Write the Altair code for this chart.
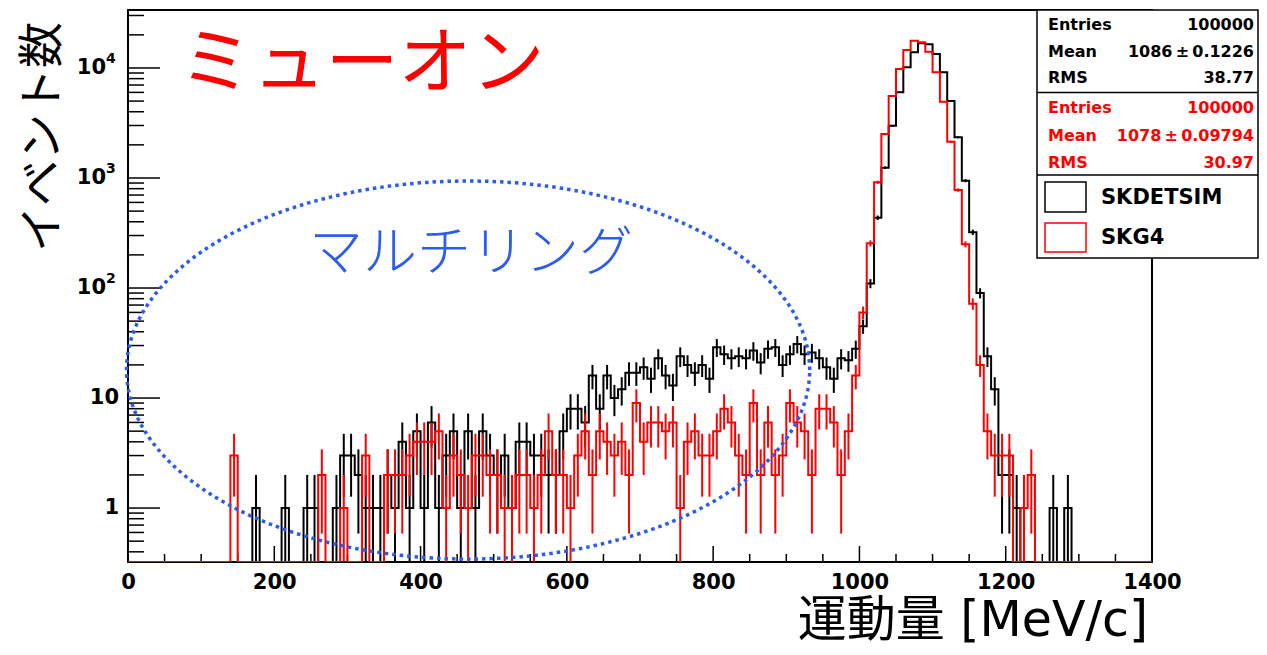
import altair as alt
import numpy as np
import pandas as pd

# ---------------- data ----------------
BIN_WIDTH = 10          # MeV/c per bin
X_MAX = 1400
Y_MIN = 0.3233
Y_MAX = 33650

skdetsim_counts = [
    0, 0, 0, 0, 0, 0, 0, 0, 0, 0,
    0, 0, 0, 0, 0, 0, 0, 1, 0, 0,
    0, 1, 0, 0, 1, 1, 0, 0, 1, 3,
    3, 2, 1, 1, 1, 2, 1, 4, 1, 5,
    1, 6, 1, 3, 5, 1, 5, 1, 5, 3,
    2, 3, 1, 4, 4, 3, 3, 2, 2, 5,
    8, 8, 6, 16, 8, 16, 10, 12, 17, 17,
    19, 15, 23, 16, 13, 24, 20, 17, 20, 15,
    29, 25, 23, 24, 23, 27, 21, 28, 29, 20,
    25, 31, 25, 26, 23, 19, 15, 23, 22, 28,
    45, 110, 435, 1240, 2990, 6010, 10150, 13900, 16760, 16400,
    13400, 9140, 5010, 2344, 946, 321, 90, 24, 12, 2,
    2, 1, 0, 0, 0, 0, 1, 0, 1, 0,
    0, 0, 0, 0, 0, 0, 0, 0, 0, 0,
]

skg4_counts = [
    0, 0, 0, 0, 0, 0, 0, 0, 0, 0,
    0, 0, 0, 0, 3, 0, 0, 0, 0, 0,
    0, 0, 0, 0, 0, 0, 2, 0, 0, 1,
    0, 0, 3, 0, 0, 2, 2, 2, 3, 4,
    4, 4, 5, 1, 3, 2, 1, 3, 3, 2,
    2, 1, 1, 2, 2, 1, 2, 5, 2, 2,
    1, 3, 5, 2, 5, 4, 3, 4, 2, 9,
    4, 6, 6, 5, 6, 1, 4, 5, 3, 3,
    5, 8, 6, 3, 2, 9, 2, 6, 2, 3,
    9, 6, 5, 2, 8, 8, 6, 2, 5, 16,
    60, 255, 914, 2512, 5560, 9800, 14580, 17700, 17100, 14060,
    9140, 4940, 2138, 778, 250, 72, 20, 5, 3, 3,
    3, 0, 1, 2, 0, 0, 0, 0, 0, 0,
    0, 0, 0, 0, 0, 0, 0, 0, 0, 0,
]

x_label_values = [0, 200, 400, 600, 800, 1000, 1200, 1400]
x_major_ticks = [200, 400, 600, 800, 1000, 1200]
x_minor_ticks = [50, 100, 150, 250, 300, 350, 450, 500, 550, 650, 700, 750,
                 850, 900, 950, 1050, 1100, 1150, 1250, 1300, 1350]
y_major_ticks = [1, 10, 100, 1000, 10000]
y_minor_ticks = [0.4, 0.5, 0.6, 0.7, 0.8, 0.9,
                 2, 3, 4, 5, 6, 7, 8, 9,
                 20, 30, 40, 50, 60, 70, 80, 90,
                 200, 300, 400, 500, 600, 700, 800, 900,
                 2000, 3000, 4000, 5000, 6000, 7000, 8000, 9000,
                 20000, 30000]
y_sup_values = [10000, 1000, 100]
y_sup_exponents = ["4", "3", "2"]
y_plain_values = [10, 1]
y_plain_labels = ["10", "1"]

stats_left = ["Entries", "Mean", "RMS", "Entries", "Mean", "RMS"]
stats_right = ["100000", "1086\u2009±\u20090.1226", "38.77",
               "100000", "1078\u2009±\u20090.09794", "30.97"]
stats_colors = ["#000000"] * 3 + ["#ff0000"] * 3
legend_names = ["SKDETSIM", "SKG4"]
legend_colors = ["#000000", "#ff0000"]

# multi-ring ellipse annotation (x in MeV/c, y in log10 counts)
ell_cx, ell_rx = 465.0, 467.0
ell_cy_log, ell_ry_log = 1.2545, 1.718

W, H = 1024, 552
FONT_B = "DejaVu Sans"

xs = alt.Scale(domain=[0, X_MAX], nice=False, zero=False)
ys = alt.Scale(type="log", domain=[Y_MIN, Y_MAX], nice=False)
X_AXIS = alt.Axis(values=x_label_values, format="d", labelFont=FONT_B, labelFontWeight="bold",
                  labelFontSize=21, labelColor="black", ticks=False, domain=False,
                  grid=False, labelPadding=9, labelOverlap=False, labelFlush=False,
                  title=None)
Y_AXIS = alt.Axis(labels=False, ticks=False, domain=False, grid=False, title=None)


def X(field):
    return alt.X(field, scale=xs, axis=X_AXIS, title=None)


def Y(field):
    return alt.Y(field, scale=ys, axis=Y_AXIS, title=None)


def hist_frames(counts):
    edges = [i * BIN_WIDTH for i in range(len(counts))] + [X_MAX]
    vals = [max(c, Y_MIN) for c in counts] + [max(counts[-1], Y_MIN)]
    step = pd.DataFrame({"x": edges, "y": vals})
    err = pd.DataFrame({
        "x": [i * BIN_WIDTH + BIN_WIDTH / 2 for i, c in enumerate(counts) if c > 0],
        "lo": [max(c - np.sqrt(c), Y_MIN) for c in counts if c > 0],
        "hi": [c + np.sqrt(c) for c in counts if c > 0],
    })
    return step, err


def hist_layers(counts, color):
    step, err = hist_frames(counts)
    line = alt.Chart(step).mark_line(
        interpolate="step-after", color=color, strokeWidth=2, clip=True
    ).encode(x=X("x:Q"), y=Y("y:Q"))
    bars = alt.Chart(err).mark_rule(color=color, strokeWidth=2, clip=True).encode(
        x=X("x:Q"), y=Y("lo:Q"), y2="hi:Q")
    return [line, bars]


# ticks (inward, ROOT style)
xmaj = alt.Chart(pd.DataFrame({"x": x_major_ticks})).mark_rule(color="black", strokeWidth=1.5).encode(
    x=X("x:Q"), y=alt.value(H), y2=alt.value(H - 16))
xmin = alt.Chart(pd.DataFrame({"x": x_minor_ticks})).mark_rule(color="black", strokeWidth=1.5).encode(
    x=X("x:Q"), y=alt.value(H), y2=alt.value(H - 8))
ymaj = alt.Chart(pd.DataFrame({"y": y_major_ticks})).mark_rule(color="black", strokeWidth=1.5).encode(
    y=Y("y:Q"), x=alt.value(0), x2=alt.value(32))
ymin = alt.Chart(pd.DataFrame({"y": y_minor_ticks})).mark_rule(color="black", strokeWidth=1.5).encode(
    y=Y("y:Q"), x=alt.value(0), x2=alt.value(16))

# y labels
ysup_base = alt.Chart(pd.DataFrame({"y": y_sup_values, "e": y_sup_exponents})).encode(y=Y("y:Q"))
ylab10 = ysup_base.mark_text(align="right", baseline="middle", font=FONT_B, fontWeight="bold",
                             fontSize=21, color="black").encode(x=alt.value(-22), text=alt.value("10"))
ylabexp = ysup_base.mark_text(align="left", baseline="middle", font=FONT_B, fontWeight="bold",
                              fontSize=14, color="black", dy=-9).encode(x=alt.value(-22), text="e:N")
yplain = alt.Chart(pd.DataFrame({"y": y_plain_values, "t": y_plain_labels})).mark_text(
    align="right", baseline="middle", font=FONT_B, fontWeight="bold", fontSize=21, color="black"
).encode(y=Y("y:Q"), x=alt.value(-9), text="t:N")

# ellipse
t = np.linspace(0, 2 * np.pi, 361)
ell_df = pd.DataFrame({
    "t": t,
    "x": ell_cx + ell_rx * np.cos(t),
    "y": 10 ** (ell_cy_log + ell_ry_log * np.sin(t)),
})
ellipse = alt.Chart(ell_df).mark_line(
    color="#2a5cf0", strokeWidth=3.5, strokeDash=[3.5, 4], strokeCap="butt"
).encode(x=X("x:Q"), y=Y("y:Q"), order="t:Q")

# annotations
one = pd.DataFrame({"a": [0]})
muon = alt.Chart(one).mark_text(text="ミューオン", font="Noto Sans CJK JP", fontSize=73,
                                color="#ff0000", align="center", baseline="middle").encode(
    x=alt.value(234), y=alt.value(55))
multiring = alt.Chart(one).mark_text(text="マルチリング", font="Noto Sans CJK JP", fontSize=54,
                                     fontWeight=300, color="#2c5cf0", align="center",
                                     baseline="middle").encode(x=alt.value(343), y=alt.value(245))
ytitle = alt.Chart(one).mark_text(text="イベント数", font="Noto Sans CJK JP", fontSize=46,
                                  color="black", align="center", baseline="middle", angle=270).encode(
    x=alt.value(-85), y=alt.value(127))
xtitle = alt.Chart(one).mark_text(text="運動量 [MeV/c]", font="DejaVu Sans, Noto Sans CJK JP",
                                  fontSize=49, color="black", align="right",
                                  baseline="alphabetic").encode(x=alt.value(1020), y=alt.value(626))

# stats box
BX0, BX1 = 909, 1130
box = alt.Chart(one).mark_rect(fill="white", stroke="black", strokeWidth=1.5).encode(
    x=alt.value(BX0), x2=alt.value(BX1), y=alt.value(0), y2=alt.value(248))
dividers = alt.Chart(pd.DataFrame({"py": [82.5, 165]})).mark_rule(color="black", strokeWidth=1.5).encode(
    x=alt.value(BX0), x2=alt.value(BX1), y=alt.Y("py:Q", scale=None))
rows_py = [15, 41.5, 68, 98, 125.5, 153]
stats_df = pd.DataFrame({"l": stats_left, "r": stats_right, "c": stats_colors, "py": rows_py})
stats_l = alt.Chart(stats_df).mark_text(align="left", baseline="middle", font=FONT_B,
                                        fontWeight="bold", fontSize=16).encode(
    x=alt.value(920), y=alt.Y("py:Q", scale=None), text="l:N", color=alt.Color("c:N", scale=None))
stats_r = alt.Chart(stats_df).mark_text(align="right", baseline="middle", font=FONT_B,
                                        fontWeight="bold", fontSize=16).encode(
    x=alt.value(1126), y=alt.Y("py:Q", scale=None), text="r:N", color=alt.Color("c:N", scale=None))
leg_df = pd.DataFrame({"n": legend_names, "c": legend_colors,
                       "y0": [172, 213], "y1": [202, 242], "ym": [188, 228]})
leg_box = alt.Chart(leg_df).mark_rect(fill="white", strokeWidth=1.5).encode(
    x=alt.value(917), x2=alt.value(958), y=alt.Y("y0:Q", scale=None), y2="y1:Q",
    stroke=alt.Color("c:N", scale=None))
leg_txt = alt.Chart(leg_df).mark_text(align="left", baseline="middle", font=FONT_B,
                                      fontWeight="bold", fontSize=21, color="black").encode(
    x=alt.value(973), y=alt.Y("ym:Q", scale=None), text="n:N")

layers = [xmaj, xmin, ymaj, ymin]
layers += hist_layers(skdetsim_counts, "#000000")
layers += hist_layers(skg4_counts, "#ff0000")
layers += [ellipse, ylab10, ylabexp, yplain, muon, multiring, ytitle, xtitle,
           box, dividers, stats_l, stats_r, leg_box, leg_txt]

chart = alt.layer(*layers).properties(
    width=W, height=H,
    autosize=alt.AutoSizeParams(type="none"),
    padding={"left": 120, "top": 2, "right": 107, "bottom": 85},
).configure_view(stroke="black", strokeWidth=2)

chart.save("out.html", embed_options={"renderer": "svg", "actions": False})
